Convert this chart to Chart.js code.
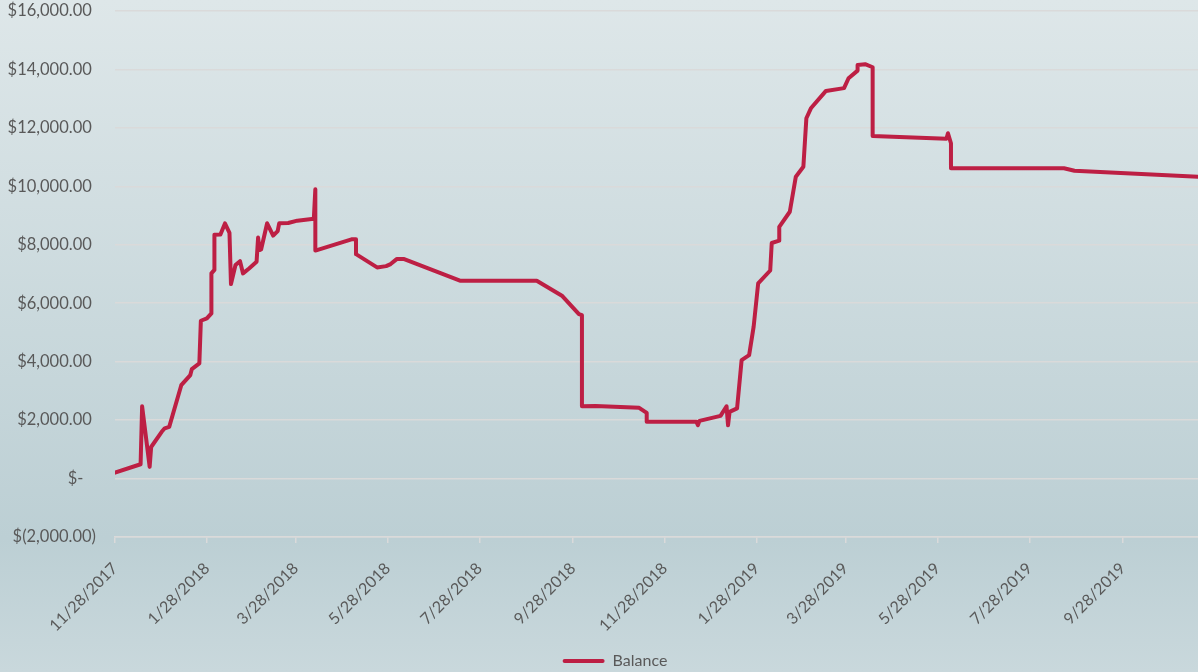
<!DOCTYPE html>
<html><head><meta charset="utf-8">
<script src="https://cdn.jsdelivr.net/npm/chart.js@4/dist/chart.umd.min.js"></script>
<style>html,body{margin:0;padding:0;background:#d0dde1;}#wrap{width:1198px;height:672px;}</style>
</head><body><div id="wrap"><canvas id="c" width="1198" height="672"></canvas></div>
<script>
const startDate = "2017-11-28";
const endDate = "2019-11-17";
const seriesName = "Balance";
const dates = [
"2017-11-28","2017-12-15","2017-12-16","2017-12-21","2017-12-22","2017-12-29","2017-12-31","2018-01-03",
"2018-01-11","2018-01-14","2018-01-17","2018-01-18","2018-01-23","2018-01-24","2018-01-28","2018-01-31",
"2018-01-31","2018-02-02","2018-02-02","2018-02-06","2018-02-09","2018-02-12","2018-02-13","2018-02-16",
"2018-02-19","2018-02-21","2018-02-25","2018-03-02","2018-03-03","2018-03-04","2018-03-05","2018-03-09",
"2018-03-13","2018-03-16","2018-03-17","2018-03-23","2018-03-29","2018-04-09","2018-04-10","2018-04-10",
"2018-05-04","2018-05-07","2018-05-07","2018-05-21","2018-05-27","2018-05-30","2018-06-03","2018-06-08",
"2018-07-15","2018-09-04","2018-09-21","2018-10-02","2018-10-04","2018-10-04","2018-10-13","2018-11-11",
"2018-11-16","2018-11-16","2018-12-19","2018-12-20","2018-12-21","2019-01-04","2019-01-08","2019-01-09",
"2019-01-10","2019-01-15","2019-01-18","2019-01-23","2019-01-26","2019-01-29","2019-02-06","2019-02-07",
"2019-02-12","2019-02-12","2019-02-19","2019-02-23","2019-02-28","2019-03-02","2019-03-05","2019-03-15",
"2019-03-27","2019-03-30","2019-04-05","2019-04-05","2019-04-10","2019-04-15","2019-04-15","2019-06-03",
"2019-06-04","2019-06-06","2019-06-06","2019-08-20","2019-08-27","2019-11-17"
];
const balances = [
200,490,2475,400,1080,1600,1720,1770,
3195,3370,3540,3745,3940,5400,5480,5650,
7020,7140,8340,8355,8730,8410,6655,7305,
7440,7020,7190,7420,8245,7820,7840,8735,
8315,8470,8735,8745,8825,8890,9900,7800,
8185,8185,7680,7225,7270,7340,7510,7510,
6770,6770,6245,5625,5590,2475,2485,2420,
2245,1940,1940,1830,1975,2145,2475,1825,
2280,2400,4050,4225,5200,6680,7120,8060,
8140,8615,9130,10330,10670,12330,12670,13265,
13360,13700,13960,14155,14180,14075,11725,11625,
11815,11475,10620,10620,10535,10330
];
const tickLabels = ["11/28/2017","1/28/2018","3/28/2018","5/28/2018","7/28/2018","9/28/2018",
"11/28/2018","1/28/2019","3/28/2019","5/28/2019","7/28/2019","9/28/2019"];
const yMin = -2000, yMax = 16000, yStep = 2000;

const DAY = 86400000;
const base = Date.parse(startDate + "T00:00:00Z");
const isoDay = s => (Date.parse(s + "T00:00:00Z") - base) / DAY;
const mdyDay = s => { const [m, d, y] = s.split("/").map(Number); return (Date.UTC(y, m - 1, d) - base) / DAY; };
const tickDays = tickLabels.map(mdyDay);

const lineColor = "#bd1f44";
const textColor = "#595959";
const gridColor = "#dadada";

function fmtMoney(v) {
  if (v === 0) return "$-   ";
  const s = Math.abs(v).toLocaleString("en-US", {minimumFractionDigits: 2, maximumFractionDigits: 2});
  return v < 0 ? "$(" + s + ")" : "$" + s + " ";
}

const bgPlugin = {
  id: "bg",
  beforeDraw(chart) {
    const {ctx, width, height} = chart;
    const g = ctx.createLinearGradient(0, 0, 0, height);
    g.addColorStop(0, "#dee7e9");
    g.addColorStop(0.8, "#bccfd4");
    g.addColorStop(1, "#c9d8dc");
    ctx.save(); ctx.fillStyle = g; ctx.fillRect(0, 0, width, height); ctx.restore();
  }
};
const legendShift = {
  id: "legendShift",
  afterLayout(chart) {
    const l = chart.legend;
    if (l) { l.left += 16; l.right += 16; l.top += 7; l.bottom += 7; }
  }
};

new Chart(document.getElementById("c"), {
  type: "line",
  data: {
    datasets: [{
      label: seriesName,
      data: dates.map((d, i) => ({x: isoDay(d), y: balances[i]})),
      borderColor: lineColor,
      backgroundColor: lineColor,
      borderWidth: 4,
      borderJoinStyle: "round",
      borderCapStyle: "round",
      pointRadius: 0,
      tension: 0,
      fill: false
    }]
  },
  plugins: [bgPlugin, legendShift],
  options: {
    responsive: false,
    devicePixelRatio: 1,
    animation: false,
    layout: {padding: {top: 11, right: 0, left: 0, bottom: 0}},
    scales: {
      x: {
        type: "linear",
        min: 0,
        max: isoDay(endDate),
        afterBuildTicks: (scale) => { scale.ticks = tickDays.map(v => ({value: v})); },
        afterFit: (scale) => { scale.height = 105; scale.paddingLeft = 0; scale.paddingRight = 0; },
        grid: {display: true, drawOnChartArea: false, drawTicks: true, tickLength: 6, color: gridColor, lineWidth: 1.5},
        border: {display: true, color: gridColor, width: 1.5},
        ticks: {
          autoSkip: false,
          minRotation: 45, maxRotation: 45,
          padding: 16,
          color: textColor,
          font: {family: "Lato", size: 16},
          callback: (v) => { const i = tickDays.indexOf(v); return i >= 0 ? tickLabels[i] : ""; }
        }
      },
      y: {
        min: yMin, max: yMax,
        afterFit: (scale) => { scale.width = 115; scale.paddingTop = 0; scale.paddingBottom = 0; },
        grid: {display: true, drawTicks: false, color: gridColor, lineWidth: 1.5},
        border: {display: false},
        ticks: {
          stepSize: yStep,
          padding: 19,
          color: textColor,
          font: {family: "Lato", size: 16.5},
          callback: (v) => fmtMoney(v)
        }
      }
    },
    plugins: {
      legend: {
        position: "bottom",
        labels: {
          boxWidth: 42, boxHeight: 4, padding: 4,
          color: textColor,
          font: {family: "Lato", size: 16},
          generateLabels: (chart) => Chart.defaults.plugins.legend.labels.generateLabels(chart)
            .map(l => Object.assign(l, {lineWidth: 0, fillStyle: lineColor, borderRadius: 2}))
        }
      },
      tooltip: {enabled: false}
    }
  }
});
</script>
</body></html>
